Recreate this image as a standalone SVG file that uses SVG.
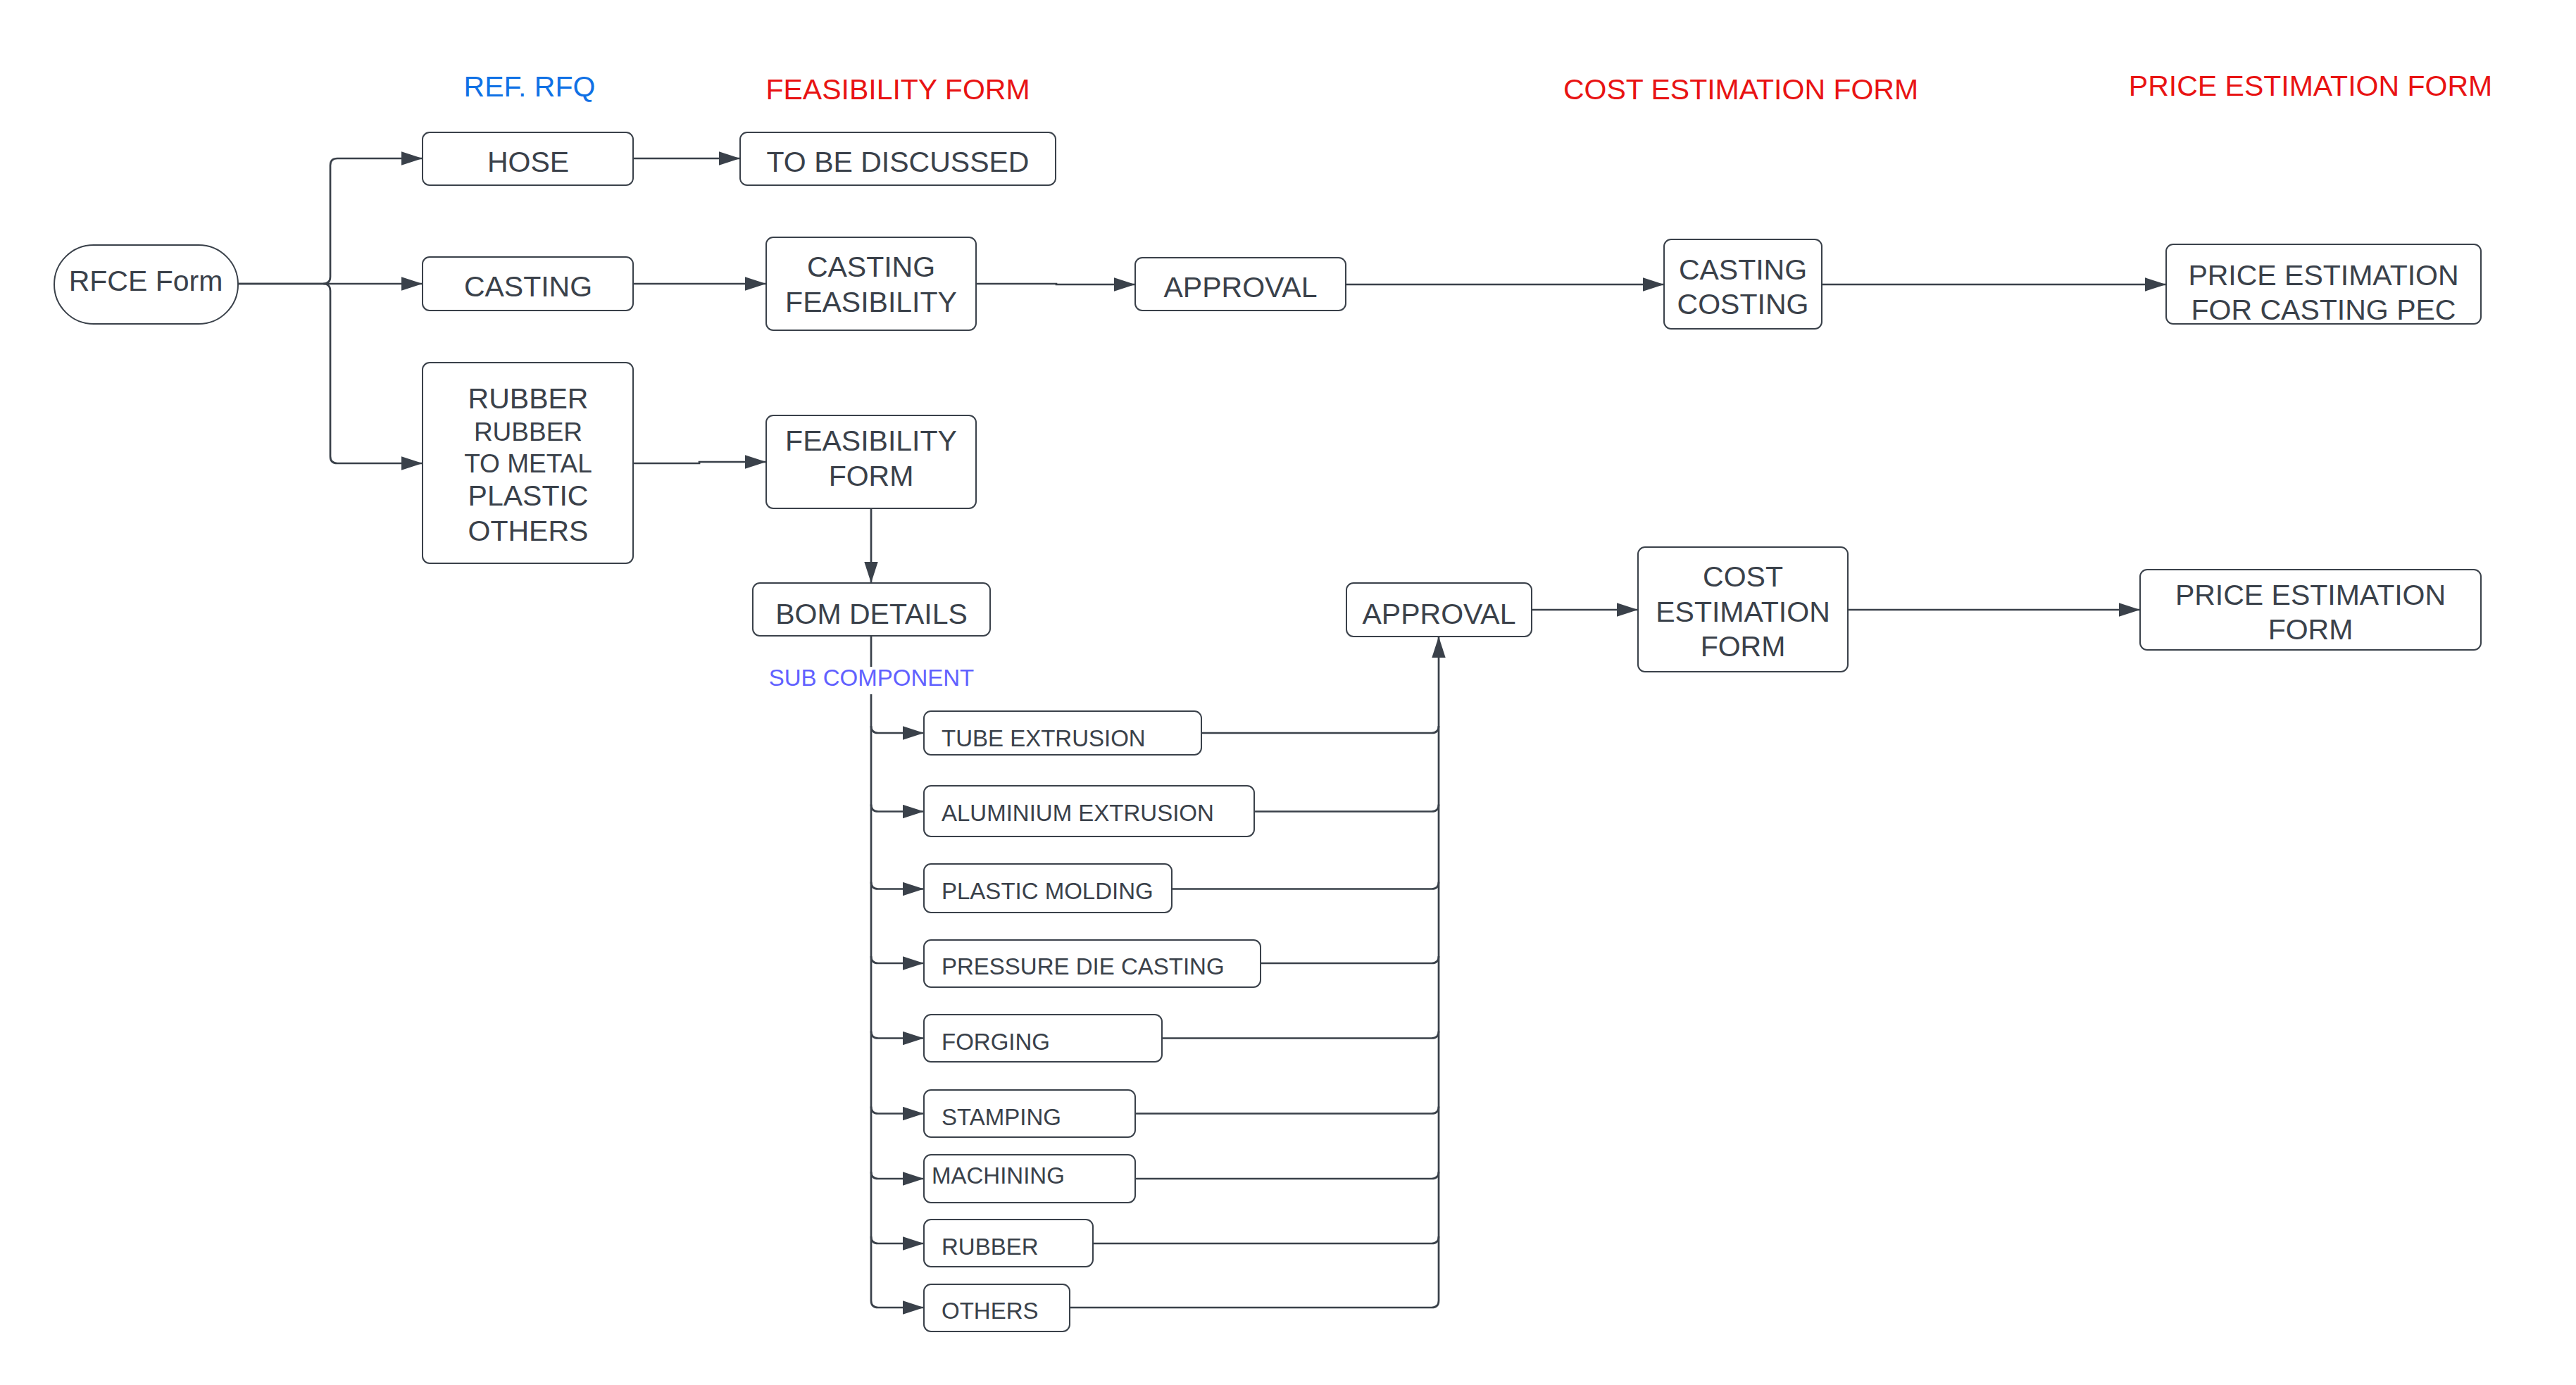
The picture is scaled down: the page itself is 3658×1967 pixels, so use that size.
<svg xmlns="http://www.w3.org/2000/svg" width="3658" height="1967" viewBox="0 0 3658 1967">
<style>
.n{fill:#fff;stroke:#3a414a;stroke-width:2}
.t{font-family:"Liberation Sans",Arial,sans-serif;font-size:41px;fill:#3a414a;text-anchor:middle}
.s{font-family:"Liberation Sans",Arial,sans-serif;font-size:33px;fill:#3a414a}
.h{font-family:"Liberation Sans",Arial,sans-serif;font-size:41px;text-anchor:middle}
.c{fill:none;stroke:#3a414a;stroke-width:2.7}
.a{marker-end:url(#arr)}
</style>
<defs>
<marker id="arr" markerUnits="userSpaceOnUse" markerWidth="30" markerHeight="20" viewBox="0 0 30 20" refX="30" refY="10" orient="auto">
<path d="M0,0.3 L30,10 L0,19.7 z" fill="#3a414a"/>
</marker>
</defs>
<rect width="3658" height="1967" fill="#fff"/>

<g id="headers">
<text class="h" x="752" y="137" fill="#1071e5">REF. RFQ</text>
<text class="h" x="1275" y="141" fill="#e81313">FEASIBILITY FORM</text>
<text class="h" x="2472" y="141" fill="#e81313">COST ESTIMATION FORM</text>
<text class="h" x="3281" y="136" fill="#e81313">PRICE ESTIMATION FORM</text>
</g>

<g id="connectors">
<path class="c a" d="M338 403 L459 403 Q469 403 469 393 L469 235 Q469 225 479 225 L600 225"/>
<path class="c a" d="M338 403 L600 403"/>
<path class="c a" d="M459 403 Q469 403 469 413 L469 648 Q469 658 479 658 L600 658"/>
<path class="c a" d="M899 225 L1051 225"/>
<path class="c a" d="M899 403 L1088 403"/>
<path class="c a" d="M899 658 L993 658 L993 656 L1088 656"/>
<path class="c a" d="M1386 403 L1500 403 L1500 404 L1612 404"/>
<path class="c a" d="M1911 404 L2363 404"/>
<path class="c a" d="M2587 404 L3076 404"/>
<path class="c a" d="M1237 722 L1237 828"/>
<path class="c" d="M1237 903 L1237 947"/>
<path class="c a" d="M1237 986 L1237 1847 Q1237 1857 1247 1857 L1312 1857"/>
<path class="c a" d="M1237 1031 Q1237 1041 1247 1041 L1312 1041"/>
<path class="c a" d="M1237 1142.5 Q1237 1152.5 1247 1152.5 L1312 1152.5"/>
<path class="c a" d="M1237 1252.5 Q1237 1262.5 1247 1262.5 L1312 1262.5"/>
<path class="c a" d="M1237 1358 Q1237 1368 1247 1368 L1312 1368"/>
<path class="c a" d="M1237 1464.5 Q1237 1474.5 1247 1474.5 L1312 1474.5"/>
<path class="c a" d="M1237 1571.5 Q1237 1581.5 1247 1581.5 L1312 1581.5"/>
<path class="c a" d="M1237 1664 Q1237 1674 1247 1674 L1312 1674"/>
<path class="c a" d="M1237 1756 Q1237 1766 1247 1766 L1312 1766"/>
<path class="c" d="M1706 1041 L2033 1041 Q2043 1041 2043 1031"/>
<path class="c" d="M1781 1152.5 L2033 1152.5 Q2043 1152.5 2043 1142.5"/>
<path class="c" d="M1664 1262.5 L2033 1262.5 Q2043 1262.5 2043 1252.5"/>
<path class="c" d="M1790 1368 L2033 1368 Q2043 1368 2043 1358"/>
<path class="c" d="M1650 1474.5 L2033 1474.5 Q2043 1474.5 2043 1464.5"/>
<path class="c" d="M1612 1581.5 L2033 1581.5 Q2043 1581.5 2043 1571.5"/>
<path class="c" d="M1612 1674 L2033 1674 Q2043 1674 2043 1664"/>
<path class="c" d="M1552 1766 L2033 1766 Q2043 1766 2043 1756"/>
<path class="c a" d="M1519 1857 L2033 1857 Q2043 1857 2043 1847 L2043 904"/>
<path class="c a" d="M2175 866 L2326 866"/>
<path class="c a" d="M2624 866 L3039 866"/>
</g>
<text x="1237.5" y="974" font-family="Liberation Sans, Arial, sans-serif" font-size="33" fill="#6161ff" text-anchor="middle">SUB COMPONENT</text>

<g id="rfce"><rect class="n" x="77" y="348" width="261" height="112" rx="56"/><text class="t" x="207" y="413">RFCE Form</text></g>
<g id="hose"><rect class="n" x="600" y="188" width="299" height="75" rx="10"/><text class="t" x="750" y="244">HOSE</text></g>
<g id="tbd"><rect class="n" x="1051" y="188" width="448" height="75" rx="10"/><text class="t" x="1275" y="244">TO BE DISCUSSED</text></g>
<g id="casting"><rect class="n" x="600" y="365" width="299" height="76" rx="10"/><text class="t" x="750" y="421">CASTING</text></g>
<g id="castfeas"><rect class="n" x="1088" y="337" width="298" height="132" rx="10"/><text class="t" x="1237" y="393">CASTING</text><text class="t" x="1237" y="443">FEASIBILITY</text></g>
<g id="rubber"><rect class="n" x="600" y="515" width="299" height="285" rx="10"/>
<text class="t" x="750" y="580">RUBBER</text>
<text class="t" x="750" y="626" style="font-size:37px">RUBBER</text>
<text class="t" x="750" y="671" style="font-size:37px">TO METAL</text>
<text class="t" x="750" y="718">PLASTIC</text>
<text class="t" x="750" y="768">OTHERS</text></g>
<g id="feasform"><rect class="n" x="1088" y="590" width="298" height="132" rx="10"/><text class="t" x="1237" y="640">FEASIBILITY</text><text class="t" x="1237" y="690">FORM</text></g>
<g id="approval1"><rect class="n" x="1612" y="366" width="299" height="75" rx="10"/><text class="t" x="1761.5" y="422">APPROVAL</text></g>
<g id="castcost"><rect class="n" x="2363" y="340" width="224" height="127" rx="10"/><text class="t" x="2475" y="397">CASTING</text><text class="t" x="2475" y="446">COSTING</text></g>
<g id="pricepec"><rect class="n" x="3076" y="347" width="447" height="113" rx="10"/><text class="t" x="3299.5" y="405">PRICE ESTIMATION</text><text class="t" x="3299.5" y="454">FOR CASTING PEC</text></g>
<g id="bom"><rect class="n" x="1069" y="828" width="337" height="75" rx="10"/><text class="t" x="1237.5" y="886">BOM DETAILS</text></g>
<g id="approval2"><rect class="n" x="1912" y="828" width="263" height="76" rx="10"/><text class="t" x="2043.5" y="886">APPROVAL</text></g>
<g id="costest"><rect class="n" x="2326" y="777" width="298" height="177" rx="10"/><text class="t" x="2475" y="833">COST</text><text class="t" x="2475" y="883">ESTIMATION</text><text class="t" x="2475" y="932">FORM</text></g>
<g id="priceest"><rect class="n" x="3039" y="809" width="484" height="114" rx="10"/><text class="t" x="3281" y="859">PRICE ESTIMATION</text><text class="t" x="3281" y="908">FORM</text></g>

<g id="tube"><rect class="n" x="1312" y="1010" width="394" height="62" rx="10"/><text class="s" x="1337" y="1060">TUBE EXTRUSION</text></g>
<g id="alu"><rect class="n" x="1312" y="1116" width="469" height="72" rx="10"/><text class="s" x="1337" y="1166">ALUMINIUM EXTRUSION</text></g>
<g id="plastic"><rect class="n" x="1312" y="1227" width="352" height="69" rx="10"/><text class="s" x="1337" y="1277">PLASTIC MOLDING</text></g>
<g id="pdc"><rect class="n" x="1312" y="1335" width="478" height="67" rx="10"/><text class="s" x="1337" y="1384">PRESSURE DIE CASTING</text></g>
<g id="forging"><rect class="n" x="1312" y="1441" width="338" height="67" rx="10"/><text class="s" x="1337" y="1491">FORGING</text></g>
<g id="stamping"><rect class="n" x="1312" y="1548" width="300" height="67" rx="10"/><text class="s" x="1337" y="1598">STAMPING</text></g>
<g id="machining"><rect class="n" x="1312" y="1640" width="300" height="68" rx="10"/><text class="s" x="1323" y="1681">MACHINING</text></g>
<g id="rubber2"><rect class="n" x="1312" y="1732" width="240" height="67" rx="10"/><text class="s" x="1337" y="1782">RUBBER</text></g>
<g id="others"><rect class="n" x="1312" y="1824" width="207" height="67" rx="10"/><text class="s" x="1337" y="1873">OTHERS</text></g>
</svg>
